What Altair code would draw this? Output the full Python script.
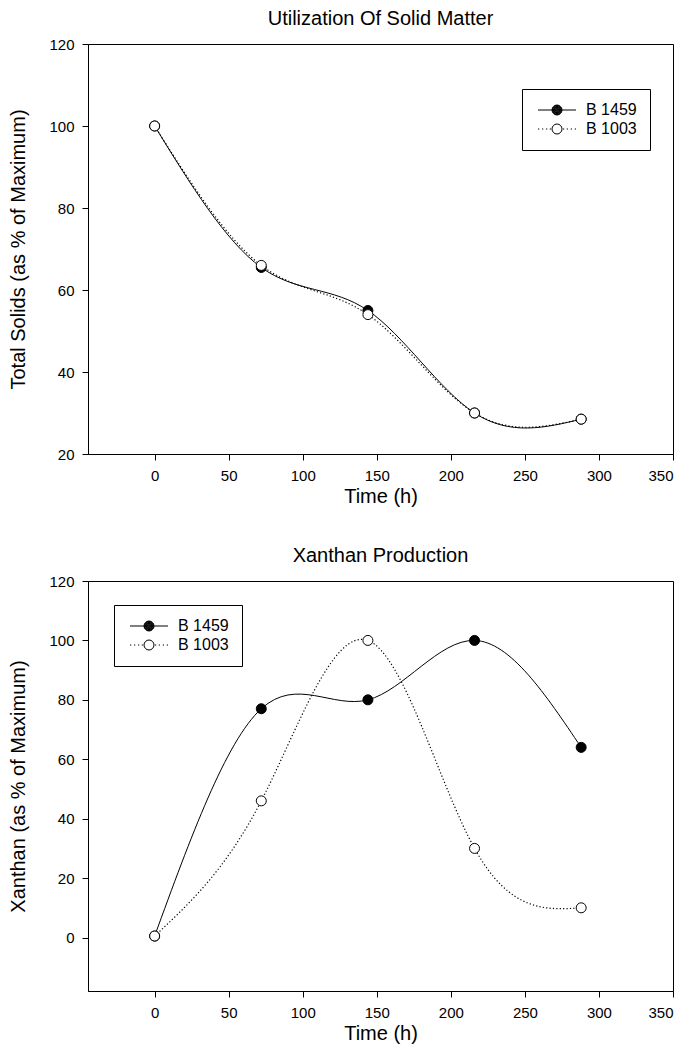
import altair as alt
import pandas as pd

# ---- data ----
time_h = [0, 72, 144, 216, 288]
solids_b1459 = [100, 65.5, 55, 30, 28.5]
solids_b1003 = [100, 66, 54, 30, 28.5]
xanthan_b1459 = [0.5, 77, 80, 100, 64]
xanthan_b1003 = [0.5, 46, 100, 30, 10]
series_names = ["B 1459", "B 1003"]
x_ticks = [0, 50, 100, 150, 200, 250, 300, 350]
solids_ticks = [20, 40, 60, 80, 100, 120]
xanthan_ticks = [0, 20, 40, 60, 80, 100, 120]

FONT = "Liberation Sans"

# legend symbols: line + circle (solid with filled circle / dotted with open circle)
def ring(r):
    return f"M {2.8 + r:.2f} 0 A {r} {r} 0 1 1 {2.8 - r:.2f} 0 A {r} {r} 0 1 1 {2.8 + r:.2f} 0 Z"

solid_sym = "M -1 0 L 1.8 0 M 3.8 0 L 6.6 0 " + " ".join(
    ring(r) for r in [1.0, 0.9, 0.8, 0.7, 0.6, 0.5, 0.4, 0.3, 0.2, 0.1])
dots_left = " ".join(f"M {x:.2f} 0 L {x + 0.25:.2f} 0" for x in [-1.0, -0.2, 0.6, 1.35])
dots_right = " ".join(f"M {x:.2f} 0 L {x + 0.25:.2f} 0" for x in [4.0, 4.75, 5.55, 6.35])
dotted_sym = dots_left + " " + dots_right + " " + ring(1.0)


def make_df(a, b):
    rows = []
    for name, vals in zip(series_names, [a, b]):
        for t, v in zip(time_h, vals):
            rows.append({"t": t, "v": v, "series": name})
    return pd.DataFrame(rows)


def panel(df, title, ytitle, ydomain, yticks, legend_x, legend_y):
    x = alt.X("t:Q", scale=alt.Scale(domain=[-45, 350], nice=False, zero=False),
              axis=alt.Axis(values=x_ticks, title="Time (h)", titlePadding=3))
    y = alt.Y("v:Q", scale=alt.Scale(domain=ydomain, nice=False, zero=False),
              axis=alt.Axis(values=yticks, title=ytitle, titlePadding=20))
    base = alt.Chart(df).encode(x=x, y=y)
    l1 = base.transform_filter(alt.datum.series == series_names[0]).mark_line(
        interpolate="natural", color="black", strokeWidth=1)
    l2 = base.transform_filter(alt.datum.series == series_names[1]).mark_line(
        interpolate="natural", color="black", strokeWidth=1.2, strokeDash=[1.2, 2.2])
    p1 = base.transform_filter(alt.datum.series == series_names[0]).mark_point(
        shape="circle", filled=True, fill="black", stroke="black", strokeWidth=1, size=100, opacity=1)
    p2 = base.transform_filter(alt.datum.series == series_names[1]).mark_point(
        shape="circle", filled=True, fill="white", stroke="black", strokeWidth=1, size=100, opacity=1)
    leg = alt.Chart(df).transform_filter("datum.t < -1000").mark_point(
        filled=False, color="black", strokeWidth=1, size=100, opacity=1).encode(
        shape=alt.Shape("series:N", scale=alt.Scale(domain=series_names, range=[solid_sym, dotted_sym]),
                        legend=alt.Legend(title=None, orient="none", legendX=legend_x, legendY=legend_y,
                                          strokeColor="black", fillColor="white", padding=13,
                                          labelFont=FONT, labelFontSize=16, labelColor="black",
                                          labelOffset=35, rowPadding=3, symbolSize=100,
                                          symbolStrokeColor="black", symbolStrokeWidth=1,
                                          symbolOpacity=1,
                                          labelExpr="datum.label + '\u00a0\u00a0\u00a0'")),
    )
    return alt.layer(l1, l2, p1, p2, leg).properties(
        width=585, height=410,
        title=alt.TitleParams(title, font=FONT, fontSize=20, fontWeight="normal", color="black", offset=8),
    )


top = panel(make_df(solids_b1459, solids_b1003), "Utilization Of Solid Matter",
            "Total Solids (as % of Maximum)", [20, 120], solids_ticks, 434, 45)
bottom = panel(make_df(xanthan_b1459, xanthan_b1003), "Xanthan Production",
               "Xanthan (as % of Maximum)", [-18, 120], xanthan_ticks, 26, 24)

chart = alt.vconcat(top, bottom, spacing=38).resolve_scale(
    shape="independent"
).resolve_legend(
    shape="independent"
).configure(
    background="white", padding=0
).configure_view(
    stroke="black", strokeWidth=1
).configure_axis(
    domainColor="black", tickColor="black", labelColor="black", titleColor="black",
    labelFont=FONT, titleFont=FONT, labelFontSize=15, titleFontSize=20, titleFontWeight="normal",
    tickSize=6, labelPadding=8, grid=False, domainWidth=1, tickWidth=1,
)

chart.save("out.html", embed_options={"renderer": "svg", "actions": False})
